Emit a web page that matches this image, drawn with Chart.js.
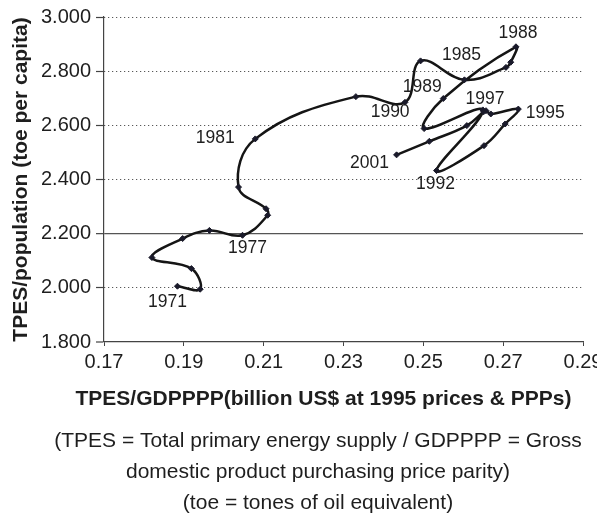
<!DOCTYPE html>
<html>
<head>
<meta charset="utf-8">
<script src="https://cdn.jsdelivr.net/npm/chart.js@4.4.0/dist/chart.umd.min.js"></script>
<style>
html,body{margin:0;padding:0;background:#fff;}
#wrap{width:597px;height:515px;position:relative;}
</style>
</head>
<body>
<div id="wrap"><canvas id="c" width="597" height="515"></canvas></div>
<script>
// ---- data ----
const years = [1971,1972,1973,1974,1975,1976,1977,1978,1979,1980,1981,1982,1983,1984,1985,1986,1987,1988,1989,1990,1991,1992,1993,1994,1995,1996,1997,1998,1999,2000,2001];
const intensity = [0.1884,0.1941,0.1919,0.1820,0.1897,0.1964,0.2047,0.2110,0.2106,0.2037,0.2079,0.2331,0.2454,0.2493,0.2603,0.2707,0.2719,0.2732,0.2550,0.2502,0.2649,0.2533,0.2652,0.2705,0.2738,0.2669,0.2657,0.2651,0.2609,0.2515,0.2433];
const perCapita = [2.006,1.995,2.071,2.112,2.182,2.212,2.194,2.268,2.292,2.372,2.550,2.706,2.685,2.838,2.768,2.814,2.833,2.890,2.699,2.588,2.657,2.433,2.525,2.605,2.660,2.642,2.654,2.650,2.599,2.541,2.491];
const labeledYears = [1971,1977,1981,1985,1988,1989,1990,1992,1995,1997,2001];
const xTicks = [0.17,0.19,0.21,0.23,0.25,0.27,0.29];
const yTicks = [1.8,2.0,2.2,2.4,2.6,2.8,3.0];
const refLineValue = 2.2;
const xTitle = 'TPES/GDPPPP(billion US$ at 1995 prices & PPPs)';
const yTitle = 'TPES/population (toe per capita)';
const noteLines = [
  '(TPES = Total primary energy supply / GDPPPP = Gross',
  'domestic product purchasing price parity)',
  '(toe = tones of oil equivalent)'
];

// ---- layout / style ----
const FONT = "'Liberation Sans', Arial, Helvetica, sans-serif";
const TEXT = '#1e1e1e';
const labelOffsets = {1971:[-10,16],1977:[5,13],1981:[-40,-1],1985:[-3,-25],1988:[2,-14],1989:[-21,-11],1990:[-34,-16],1992:[-1,14],1995:[27,4],1997:[-1,-12],2001:[-27,8]};

const points = years.map((y,i)=>({x:intensity[i], y:perCapita[i], year:y}));

const yearLabels = {
  id:'yearLabels',
  afterDatasetsDraw(chart){
    const {ctx, scales:{x,y}} = chart;
    ctx.save();
    ctx.font = '17.5px ' + FONT;
    ctx.fillStyle = TEXT;
    ctx.textAlign = 'center';
    ctx.textBaseline = 'middle';
    labeledYears.forEach(yr=>{
      const i = years.indexOf(yr);
      const off = labelOffsets[yr] || [0,0];
      ctx.fillText(String(yr), x.getPixelForValue(intensity[i]) + off[0], y.getPixelForValue(perCapita[i]) + off[1]);
    });
    ctx.restore();
  }
};

const bottomTexts = {
  id:'bottomTexts',
  afterDraw(chart){
    const ctx = chart.ctx;
    ctx.save();
    ctx.fillStyle = TEXT;
    ctx.textAlign = 'center';
    ctx.textBaseline = 'middle';
    ctx.font = 'bold 21px ' + FONT;
    ctx.fillText(xTitle, 323.5, 399);
    ctx.font = '21px ' + FONT;
    noteLines.forEach((t,k)=>ctx.fillText(t, 318, 441 + k*31));
    ctx.restore();
  }
};

new Chart(document.getElementById('c'), {
  type:'scatter',
  data:{
    datasets:[{
      data: points,
      showLine:true,
      tension:0.4,
      borderColor:'#151515',
      borderWidth:2.5,
      pointStyle:'rectRot',
      pointRadius:3,
      pointBackgroundColor:'#1a1a2a',
      pointBorderColor:'#1a1a2a',
      pointBorderWidth:1
    }]
  },
  options:{
    responsive:false,
    animation:false,
    devicePixelRatio:1,
    layout:{padding:{top:16,right:14,bottom:141,left:0}},
    plugins:{legend:{display:false},tooltip:{enabled:false}},
    scales:{
      x:{
        type:'linear',
        min:0.17, max:0.29,
        afterBuildTicks(s){ s.ticks = xTicks.map(v=>({value:v})); },
        afterFit(s){ s.height = 32; s.paddingLeft = 0; s.paddingRight = 0; },
        ticks:{
          padding:4,
          color:TEXT,
          font:{family:FONT,size:20},
          maxRotation:0,
          autoSkip:false,
          callback:v=>Number(v).toFixed(2)
        },
        grid:{drawOnChartArea:false, drawTicks:true, tickLength:4, tickColor:'#444', tickWidth:1},
        border:{display:true,color:'#444',width:1.2}
      },
      y:{
        type:'linear',
        min:1.8, max:3.0,
        afterBuildTicks(s){ s.ticks = yTicks.map(v=>({value:v})); },
        afterFit(s){ s.width = 104; },
        ticks:{
          padding:5,
          color:TEXT,
          font:{family:FONT,size:20},
          autoSkip:false,
          callback:v=>Number(v).toFixed(3)
        },
        grid:{
          drawOnChartArea:true,
          drawTicks:true,
          tickLength:8,
          tickColor:'#444',
          tickWidth:1.2,
          color:ctx=>(ctx.tick && Math.abs(ctx.tick.value-refLineValue)<1e-9)?'#555':'#333',
          lineWidth:ctx=>(ctx.tick && Math.abs(ctx.tick.value-1.8)<1e-9)?0:((ctx.tick && Math.abs(ctx.tick.value-refLineValue)<1e-9)?1.3:1)
        },
        border:{
          display:true,color:'#444',width:1.2,
          dash:ctx=>(ctx.tick && Math.abs(ctx.tick.value-refLineValue)<1e-9)?[]:[1,3]
        },
        title:{
          display:true,
          text:yTitle,
          color:TEXT,
          font:{family:FONT,size:21,weight:'bold'},
          padding:{top:9,bottom:0}
        }
      }
    }
  },
  plugins:[yearLabels,bottomTexts]
});
</script>
</body>
</html>
